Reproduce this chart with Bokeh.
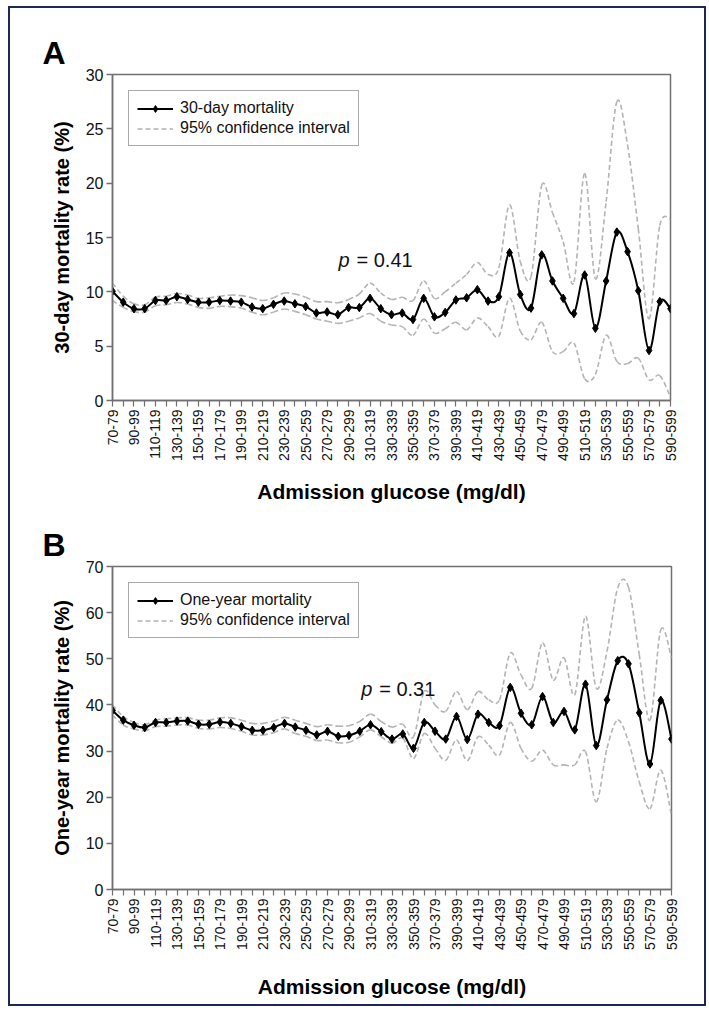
import numpy as np
from bokeh.plotting import figure
from bokeh.models import Range1d, FixedTicker, Label, Legend, LegendItem
from bokeh.layouts import column
from bokeh.embed import file_html
from bokeh.resources import INLINE

# ---------------- data ----------------
glucose_bins = ["70-79", "80-89", "90-99", "100-109", "110-119", "120-129", "130-139", "140-149",
                "150-159", "160-169", "170-179", "180-189", "190-199", "200-209", "210-219", "220-229",
                "230-239", "240-249", "250-259", "260-269", "270-279", "280-289", "290-299", "300-309",
                "310-319", "320-329", "330-339", "340-349", "350-359", "360-369", "370-379", "380-389",
                "390-399", "400-409", "410-419", "420-429", "430-439", "440-449", "450-459", "460-469",
                "470-479", "480-489", "490-499", "500-509", "510-519", "520-529", "530-539", "540-549",
                "550-559", "560-569", "570-579", "580-589", "590-599"]

mort30 = [10.05, 9.05, 8.45, 8.45, 9.2, 9.2, 9.55, 9.3, 9.05, 9.05,
          9.2, 9.15, 9.05, 8.6, 8.45, 8.85, 9.15, 8.9, 8.65, 8.05,
          8.15, 7.9, 8.55, 8.55, 9.4, 8.45, 7.9, 8.05, 7.45, 9.4,
          7.7, 8.1, 9.25, 9.45, 10.2, 9.15, 9.55, 13.6, 9.75, 8.5,
          13.4, 11.0, 9.4, 8.0, 11.55, 6.65, 11.0, 15.5, 13.7, 10.1,
          4.6, 9.1, 8.45]
mort30_upper = [10.8, 9.6, 8.9, 8.8, 9.5, 9.6, 9.85, 9.7, 9.4, 9.45,
                9.6, 9.7, 9.65, 9.45, 9.2, 9.45, 9.9, 9.8, 9.5, 9.1,
                9.1, 9.0, 9.3, 9.8, 10.8, 9.9, 9.3, 9.5, 9.2, 11.0,
                9.4, 10.0, 10.8, 11.6, 12.7, 11.6, 12.2, 18.0, 12.8, 11.4,
                19.8, 17.3, 14.6, 10.9, 20.9, 11.2, 18.3, 27.5, 23.5, 15.8,
                7.5, 16.1, 16.7]
mort30_lower = [9.2, 8.57, 8.18, 8.13, 8.72, 8.81, 9.02, 8.87, 8.57, 8.48,
                8.66, 8.63, 8.51, 8.13, 7.89, 8.13, 8.42, 8.2, 7.9, 7.5,
                7.3, 7.1, 7.3, 7.6, 8.0, 7.3, 6.95, 6.8, 6.0, 7.5,
                6.2, 6.6, 7.2, 6.5, 7.6, 6.8, 5.9, 9.4, 6.4, 5.6,
                7.2, 4.5, 4.5, 5.3, 2.0, 2.4, 6.0, 3.6, 3.4, 3.9,
                1.9, 2.3, 0.3]

mort1y = [38.8, 36.7, 35.6, 35.1, 36.2, 36.2, 36.5, 36.5, 35.8, 35.8,
          36.3, 36.0, 35.3, 34.5, 34.5, 35.1, 36.0, 35.2, 34.5, 33.5,
          34.3, 33.2, 33.4, 34.3, 35.7, 34.2, 32.6, 33.7, 30.6, 36.2,
          34.3, 32.6, 37.5, 32.5, 38.0, 36.2, 35.5, 43.8, 38.2, 35.7,
          41.8, 36.2, 38.6, 34.6, 44.5, 31.2, 41.1, 49.6, 48.9, 38.3,
          27.2, 41.0, 32.6]
mort1y_upper = [40.0, 37.5, 36.2, 35.7, 36.7, 37.0, 37.2, 37.2, 36.7, 36.7,
                37.2, 37.2, 36.7, 36.0, 36.0, 36.5, 37.3, 36.7, 36.0, 35.3,
                35.7, 35.4, 35.5, 36.4, 38.0, 36.4, 35.2, 35.8, 33.1, 42.9,
                40.0, 38.6, 42.9, 39.0, 42.9, 41.1, 41.1, 51.2, 46.5, 43.6,
                53.4, 45.4, 50.2, 42.2, 59.2, 43.6, 51.6, 65.4, 65.5, 50.9,
                36.7, 56.3, 50.2]
mort1y_lower = [37.8, 35.65, 34.8, 34.4, 35.3, 35.4, 35.65, 35.65, 34.9, 34.8,
                35.1, 34.9, 34.3, 33.5, 33.5, 34.0, 34.8, 33.8, 33.2, 32.3,
                32.4, 31.8, 31.9, 33.1, 34.6, 33.1, 31.7, 32.8, 28.4, 33.8,
                30.6, 28.0, 32.4, 27.9, 33.1, 31.3, 29.1, 36.2, 30.6, 27.8,
                30.2, 27.0, 27.0, 27.0, 29.9, 19.0, 30.6, 36.7, 32.0, 23.3,
                17.5, 25.9, 16.1]

FONT = "Liberation Sans"


def smooth_segments(xs, ys):
    """Bezier control points (Catmull-Rom style) so the curve passes through every data point."""
    n = len(xs)
    out = {k: [] for k in ("x0", "y0", "x1", "y1", "cx0", "cy0", "cx1", "cy1")}
    for i in range(n - 1):
        a = max(i - 1, 0)
        d = min(i + 2, n - 1)
        out["x0"].append(xs[i]); out["y0"].append(ys[i])
        out["x1"].append(xs[i + 1]); out["y1"].append(ys[i + 1])
        out["cx0"].append(xs[i] + (xs[i + 1] - xs[a]) / 6.0)
        out["cy0"].append(ys[i] + (ys[i + 1] - ys[a]) / 6.0)
        out["cx1"].append(xs[i + 1] - (xs[d] - xs[i]) / 6.0)
        out["cy1"].append(ys[i + 1] - (ys[d] - ys[i]) / 6.0)
    return out


def make_panel(values, upper, lower, y_end, y_step, y_title, series_name, letter,
               p_label, p_x, p_y, frame_w, frame_h, bl, br, bt, bb, title_standoff):
    xs = list(range(len(glucose_bins)))
    p = figure(frame_width=frame_w, frame_height=frame_h,
               x_range=Range1d(0, len(glucose_bins) - 1), y_range=Range1d(0, y_end),
               output_backend="svg", toolbar_location=None,
               min_border_left=bl, min_border_right=br, min_border_top=bt, min_border_bottom=bb,
               background_fill_color="white", border_fill_color="white")
    p.xgrid.visible = False
    p.ygrid.visible = False
    p.outline_line_color = "#707070"
    p.outline_line_width = 1.5

    # panel letter as the figure title
    p.title.text = letter
    p.title.align = "left"
    p.title.offset = -70
    p.title.standoff = 8
    p.title.text_font = FONT
    p.title.text_font_style = "bold"
    p.title.text_font_size = "32px"
    p.title.text_color = "black"

    # axes
    p.yaxis.ticker = FixedTicker(ticks=list(range(0, y_end + 1, y_step)))
    p.yaxis.major_label_text_font_size = "16px"
    p.yaxis.major_label_text_font = FONT
    p.yaxis.major_label_text_color = "#111111"
    p.yaxis.major_tick_in = 0
    p.yaxis.major_tick_out = 6
    p.yaxis.major_label_standoff = 3
    p.yaxis.minor_tick_line_color = None
    p.yaxis.axis_line_color = "#707070"
    p.yaxis.axis_line_width = 1.5
    p.yaxis.major_tick_line_color = "#707070"
    p.yaxis.major_tick_line_width = 1.3
    p.yaxis.axis_label = y_title
    p.yaxis.axis_label_text_font = FONT
    p.yaxis.axis_label_text_font_style = "bold"
    p.yaxis.axis_label_text_font_size = "20px"
    p.yaxis.axis_label_text_color = "#000000"
    p.yaxis.axis_label_standoff = 10

    p.xaxis.ticker = FixedTicker(ticks=xs)
    p.xaxis.major_label_overrides = {i: (glucose_bins[i] if i % 2 == 0 else "") for i in xs}
    p.xaxis.major_label_orientation = np.pi / 2
    p.xaxis.major_label_text_font_size = "14px"
    p.xaxis.major_label_text_font = FONT
    p.xaxis.major_label_text_color = "#111111"
    p.xaxis.major_tick_in = 0
    p.xaxis.major_tick_out = 6
    p.xaxis.major_label_standoff = 3
    p.xaxis.minor_tick_line_color = None
    p.xaxis.axis_line_color = "#707070"
    p.xaxis.axis_line_width = 1.5
    p.xaxis.major_tick_line_color = "#707070"
    p.xaxis.major_tick_line_width = 1.2
    p.xaxis.axis_label = "Admission glucose (mg/dl)"
    p.xaxis.axis_label_text_font = FONT
    p.xaxis.axis_label_text_font_style = "bold"
    p.xaxis.axis_label_text_font_size = "21px"
    p.xaxis.axis_label_text_color = "#000000"
    p.xaxis.axis_label_standoff = title_standoff

    # confidence bands (smoothed dashed)
    ci_style = dict(line_color="#b4b4b4", line_width=1.6, line_dash="5 3")
    ci_renderers = []
    for band in (upper, lower):
        s = smooth_segments(xs, band)
        ci_renderers.append(p.bezier(**s, **ci_style))
    # main series (smoothed solid) + diamond markers
    s = smooth_segments(xs, values)
    main = p.bezier(**s, line_color="black", line_width=2)
    marks = p.scatter(xs, values, marker="diamond", size=8.5, fill_color="black", line_color="black")

    legend = Legend(items=[LegendItem(label=series_name, renderers=[main, marks]),
                           LegendItem(label="95% confidence interval", renderers=[ci_renderers[0]])],
                    location="top_left", margin=16, padding=8, spacing=2,
                    glyph_width=36, glyph_height=17, label_height=17, label_standoff=7,
                    label_text_font=FONT, label_text_font_size="16px", label_text_color="#111111",
                    border_line_color="#555555", border_line_width=1.2,
                    background_fill_color="white", background_fill_alpha=1.0)
    p.add_layout(legend)

    # p-value annotation
    p.add_layout(Label(x=p_x, y=p_y, text="p", text_font=FONT, text_font_style="italic",
                       text_font_size="20px", text_baseline="alphabetic", text_color="#111111"))
    p.add_layout(Label(x=p_x, y=p_y, x_offset=18, text="= " + p_label, text_font=FONT,
                       text_font_size="20px", text_baseline="alphabetic", text_color="#111111"))
    return p


pA = make_panel(mort30, mort30_upper, mort30_lower, 30, 5, "30-day mortality rate (%)",
                "30-day mortality", "A", "0.41", 21.06, 12.9,
                558, 326, 100, 36, 66, 106, 16)
pB = make_panel(mort1y, mort1y_upper, mort1y_lower, 70, 10, "One-year mortality rate (%)",
                "One-year mortality", "B", "0.31", 23.13, 43.4,
                559, 323, 102, 33, 60, 115, 22)

layout = column(pA, pB, spacing=0, margin=(6, 0, 0, 8),
                styles={"border": "2px solid #1d2758", "background-color": "white"})

open("out.html", "w").write(file_html(layout, INLINE))
